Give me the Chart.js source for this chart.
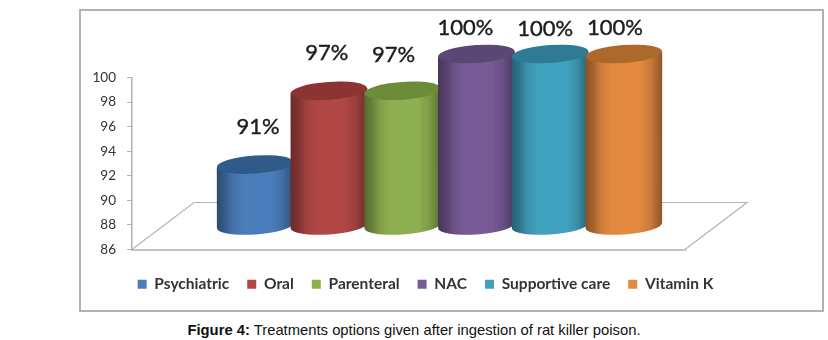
<!DOCTYPE html>
<html lang="en">
<head>
    <meta charset="UTF-8">
    <title>Figure 4</title>
    <script src="https://cdn.jsdelivr.net/npm/chart.js"></script>
    <style>
        html, body { margin: 0; padding: 0; background: #fff; }
        body { width: 828px; height: 340px; position: relative; overflow: hidden; }
        #frame { position: absolute; left: 79px; top: 9px; width: 741px; height: 299px; border: 2px solid #b2b2b2; }
        #wrap { position: absolute; left: 56px; top: 11px; width: 740px; height: 298px; }
        #caption { position: absolute; left: 0; width: 828px; top: 322px; text-align: center;
                   font: 14.8px "Liberation Sans", Arial, sans-serif; color: #111; }
    </style>
</head>
<body>
    <div id="frame"></div>
    <div id="wrap"><canvas id="chart" width="740" height="298"></canvas></div>
    <div id="caption"><b>Figure 4:</b> Treatments options given after ingestion of rat killer poison.</div>

    <script>
        const categories = ['Treatment'];
        const seriesNames = ['Psychiatric', 'Oral', 'Parenteral', 'NAC', 'Supportive care', 'Vitamin K'];
        const seriesValues = [91, 97, 97, 100, 100, 100];
        const percentLabels = ['91%', '97%', '97%', '100%', '100%', '100%'];
        const yMin = 86;
        const yMax = 100;
        const yStep = 2;

        const bodyColors = ['#4a7ebb', '#b04745', '#8fb050', '#775a96', '#41a2bf', '#e48a40'];
        const topColors = ['#2f5a8a', '#8c3432', '#6c8c3a', '#5a4775', '#2f7a94', '#ad682c'];
        // the labels were placed by hand in the original, so they sit off-centre
        const labelShiftX = [3, -2, -9, -11, -5, -9];
        const labelShiftY = [-38, -38, -36, -26, -25, -26];

        // depth of the floor plane, px
        const depthX = 62;
        const depthY = 47;
        // legend is centred on the whole frame, not on the plot
        const legendShift = 55;

        function shade(hex, k) {
            const n = parseInt(hex.slice(1), 16);
            const r = Math.round((n >> 16) * k);
            const g = Math.round(((n >> 8) & 255) * k);
            const b = Math.round((n & 255) * k);
            return `rgb(${r},${g},${b})`;
        }

        function drawFloor(ctx, area) {
            ctx.save();
            ctx.strokeStyle = '#b4b4b4';
            ctx.lineWidth = 1.2;
            ctx.beginPath();
            ctx.moveTo(area.left, area.bottom);
            ctx.lineTo(area.left + depthX, area.bottom - depthY);
            ctx.lineTo(area.right + depthX, area.bottom - depthY);
            ctx.lineTo(area.right, area.bottom);
            ctx.stroke();
            ctx.restore();
        }

        function drawCylinder(ctx, bar, i) {
            const cx = bar.x + depthX / 2;
            const rx = bar.width / 2 + 1.5;
            const ry = 9;
            const tilt = -0.07;
            const topY = bar.y - depthY / 2;
            const baseY = bar.base - depthY / 2;
            const dyEnd = rx * Math.sin(tilt);

            const grad = ctx.createLinearGradient(cx - rx, 0, cx + rx, 0);
            const c = bodyColors[i];
            grad.addColorStop(0, shade(c, 0.6));
            grad.addColorStop(0.1, shade(c, 0.72));
            grad.addColorStop(0.2, shade(c, 0.9));
            grad.addColorStop(0.35, c);
            grad.addColorStop(0.7, c);
            grad.addColorStop(0.85, shade(c, 0.88));
            grad.addColorStop(1, shade(c, 0.62));

            ctx.beginPath();
            ctx.ellipse(cx, baseY, rx, ry, tilt, 0, Math.PI);
            ctx.lineTo(cx - rx, topY - dyEnd);
            ctx.lineTo(cx + rx, topY + dyEnd);
            ctx.closePath();
            ctx.fillStyle = grad;
            ctx.fill();

            ctx.beginPath();
            ctx.ellipse(cx, topY, rx, ry, tilt, 0, Math.PI * 2);
            ctx.fillStyle = topColors[i];
            ctx.fill();

            const lx = bar.x + depthX / 2 + labelShiftX[i];
            const ly = topY + labelShiftY[i];
            ctx.fillStyle = '#1c1c1c';
            ctx.strokeStyle = '#1c1c1c';
            ctx.lineWidth = 0.4;
            ctx.font = '22px Lato';
            ctx.textAlign = 'center';
            ctx.textBaseline = 'middle';
            ctx.fillText(percentLabels[i], lx, ly);
            ctx.strokeText(percentLabels[i], lx, ly);
        }

        const cylinderPlugin = {
            id: 'cylinders',
            afterLayout(chart) {
                chart.legend.left += legendShift;
                chart.legend.right += legendShift;
            },
            beforeDatasetsDraw(chart) {
                const ctx = chart.ctx;
                drawFloor(ctx, chart.chartArea);
                ctx.save();
                chart.data.datasets.forEach((ds, i) => {
                    drawCylinder(ctx, chart.getDatasetMeta(i).data[0], i);
                });
                ctx.restore();
                return false; // cylinders replace the flat bars
            }
        };

        new Chart(document.getElementById('chart').getContext('2d'), {
            type: 'bar',
            data: {
                labels: categories,
                datasets: seriesNames.map((name, i) => ({
                    label: name,
                    data: [seriesValues[i]],
                    base: yMin,
                    backgroundColor: bodyColors[i],
                    borderWidth: 0,
                    categoryPercentage: 0.8,
                    barPercentage: 1
                }))
            },
            plugins: [cylinderPlugin],
            options: {
                responsive: false,
                animation: false,
                layout: { padding: { top: 66.5, right: 111, bottom: 7, left: 0 } },
                scales: {
                    x: {
                        afterFit(scale) { scale.height = 9; },
                        ticks: { display: false },
                        grid: { display: false },
                        border: { color: '#c4c4c4', width: 2 }
                    },
                    y: {
                        min: yMin,
                        max: yMax,
                        afterFit(scale) { scale.width = 76; },
                        ticks: { stepSize: yStep, color: '#333', font: { family: 'Lato', size: 13.5 }, padding: 11 },
                        grid: { drawOnChartArea: false, drawTicks: true, tickLength: 5, color: '#b0b0b0' },
                        border: { color: '#b0b0b0', width: 1.5 }
                    }
                },
                plugins: {
                    tooltip: { enabled: false },
                    legend: {
                        position: 'bottom',
                        labels: {
                            boxWidth: 9,
                            boxHeight: 9,
                            padding: 18,
                            color: '#333',
                            font: { family: 'Lato', size: 15.5, weight: 'bold' }
                        }
                    }
                }
            }
        });
    </script>
</body>
</html>
